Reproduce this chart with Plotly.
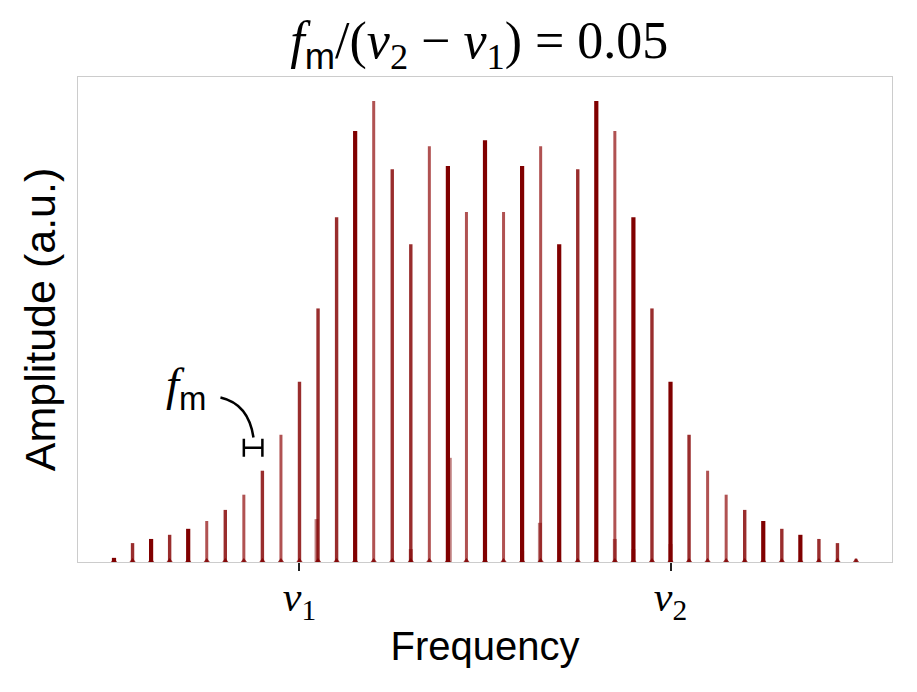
import plotly.graph_objects as go

# ---------------- data ----------------
# comb line frequencies, in units where nu1 = 0 and nu2 = 1 (spacing f_m = 0.05)
freq = [-0.50, -0.45, -0.40, -0.35, -0.30, -0.25, -0.20, -0.15, -0.10, -0.05,
        0.00, 0.05, 0.10, 0.15, 0.20, 0.25, 0.30, 0.35, 0.40, 0.45,
        0.50, 0.55, 0.60, 0.65, 0.70, 0.75, 0.80, 0.85, 0.90, 0.95,
        1.00, 1.05, 1.10, 1.15, 1.20, 1.25, 1.30, 1.35, 1.40, 1.45, 1.50]
amplitude = [0.9, 4.1, 5.0, 5.9, 7.2, 8.9, 11.3, 14.6, 19.8, 27.6,
             39.1, 55.0, 74.8, 93.5, 100.0, 85.2, 68.9, 90.2, 85.9, 75.9,
             91.5, 75.9, 85.9, 90.2, 68.9, 85.2, 100.0, 93.5, 74.8, 55.0,
             39.1, 27.6, 19.8, 14.6, 11.3, 8.9, 7.2, 5.9, 5.0, 4.1, 0.7]
# how dense each line looks (d = dark, m = medium, l = light)
shade = ["d", "m", "d", "m", "d", "l", "m", "l", "m", "l",
         "m", "m", "m", "d", "l", "m", "m", "l", "d", "l",
         "d", "l", "d", "l", "d", "m", "d", "l", "d", "m",
         "d", "m", "l", "l", "m", "d", "m", "d", "m", "m", "l"]

# short overlaid lines (a second, weaker spectrum drawn on top)
overlay_freq = [0.046, 0.30, 0.405, 0.50, 0.60, 0.648, 0.85, 0.90, 1.00]
overlay_amp = [9.3, 2.8, 22.6, 5.0, 2.4, 8.5, 5.0, 2.8, 3.9]

title_text = ("<i>f</i><sub><span style='font-family:Liberation Sans'>m</span></sub>"
              "/(<i>ν</i><sub>2</sub> − <i>ν</i><sub>1</sub>) = 0.05")
tick_vals = [0, 1]
tick_text = ["<i>ν</i><sub>1</sub>", "<i>ν</i><sub>2</sub>"]

# f_m annotation: bracket spans one line spacing
bracket_center = -0.125
bracket_half = 0.025
bracket_level = 24.8
label_pos = (-0.305, 37.8)
curve_start = (-0.213, 35.7)
curve_ctrl = (-0.137, 34.3)
curve_end = (-0.124, 27.0)

# ---------------- style ----------------
PX = 1.0 / 371.0  # one pixel in frequency units
style = {
    "d": ("#800000", 4.2),
    "m": ("rgba(135,8,8,0.85)", 3.4),
    "l": ("rgba(145,15,15,0.72)", 3.0),
}
colors = [style[s][0] for s in shade]
widths = [style[s][1] * PX for s in shade]

fig = go.Figure()
fig.add_trace(go.Bar(
    x=freq, y=amplitude, width=widths,
    marker=dict(color=colors, line=dict(width=0)),
    showlegend=False, hoverinfo="skip"))
fig.add_trace(go.Bar(
    x=overlay_freq, y=overlay_amp, width=[4.0 * PX] * len(overlay_freq),
    marker=dict(color="rgba(128,0,0,0.5)", line=dict(width=0)),
    showlegend=False, hoverinfo="skip"))
# line feet
fig.add_trace(go.Scatter(
    x=freq, y=[0] * len(freq), mode="markers",
    marker=dict(symbol="triangle-up", size=8, color="rgba(128,0,0,0.8)", line=dict(width=0)),
    cliponaxis=True, showlegend=False, hoverinfo="skip"))
# f_m bracket
fig.add_trace(go.Scatter(
    x=[bracket_center], y=[bracket_level], mode="markers",
    marker=dict(size=1, color="rgba(0,0,0,0)"),
    error_x=dict(type="data", array=[bracket_half], width=9, thickness=2.5, color="black"),
    showlegend=False, hoverinfo="skip"))

fig.add_shape(type="path", xref="x", yref="y",
              path=f"M {curve_start[0]},{curve_start[1]} Q {curve_ctrl[0]},{curve_ctrl[1]} {curve_end[0]},{curve_end[1]}",
              line=dict(color="black", width=2.5))
fig.add_annotation(x=label_pos[0], y=label_pos[1], xref="x", yref="y",
                   text="<i>f</i><sub><span style='font-family:Liberation Sans'>m</span></sub>",
                   showarrow=False, font=dict(family="Liberation Serif", size=47, color="black"))

# page body adds an 8px offset, so the figure is drawn 8px smaller
fig.update_layout(
    width=909, height=684,
    margin=dict(l=70, r=25, t=69, b=130),
    paper_bgcolor="white", plot_bgcolor="white",
    barmode="overlay",
    title=dict(text=title_text, x=0.493, xref="paper", xanchor="center",
               y=0.953, yref="container", yanchor="middle",
               font=dict(family="Liberation Serif", size=52, color="black")),
    xaxis=dict(range=[-0.597, 1.597], tickvals=tick_vals, ticktext=tick_text,
               ticks="outside", ticklen=8, tickwidth=2, tickcolor="#222",
               ticklabelstandoff=-10,
               tickfont=dict(family="Liberation Serif", size=42, color="black"),
               showline=True, linecolor="#cccccc", linewidth=1, mirror=True,
               showgrid=False, zeroline=False, automargin=False,
               title=dict(text="Frequency", standoff=6,
                          font=dict(family="Liberation Sans", size=40, color="black"))),
    yaxis=dict(range=[0, 105.2], showticklabels=False, ticks="",
               showline=True, linecolor="#cccccc", linewidth=1, mirror=True,
               showgrid=False, zeroline=False, automargin=False,
               title=dict(text="Amplitude (a.u.)", standoff=7,
                          font=dict(family="Liberation Sans", size=43, color="black"))),
)

fig.write_html("out.html")
